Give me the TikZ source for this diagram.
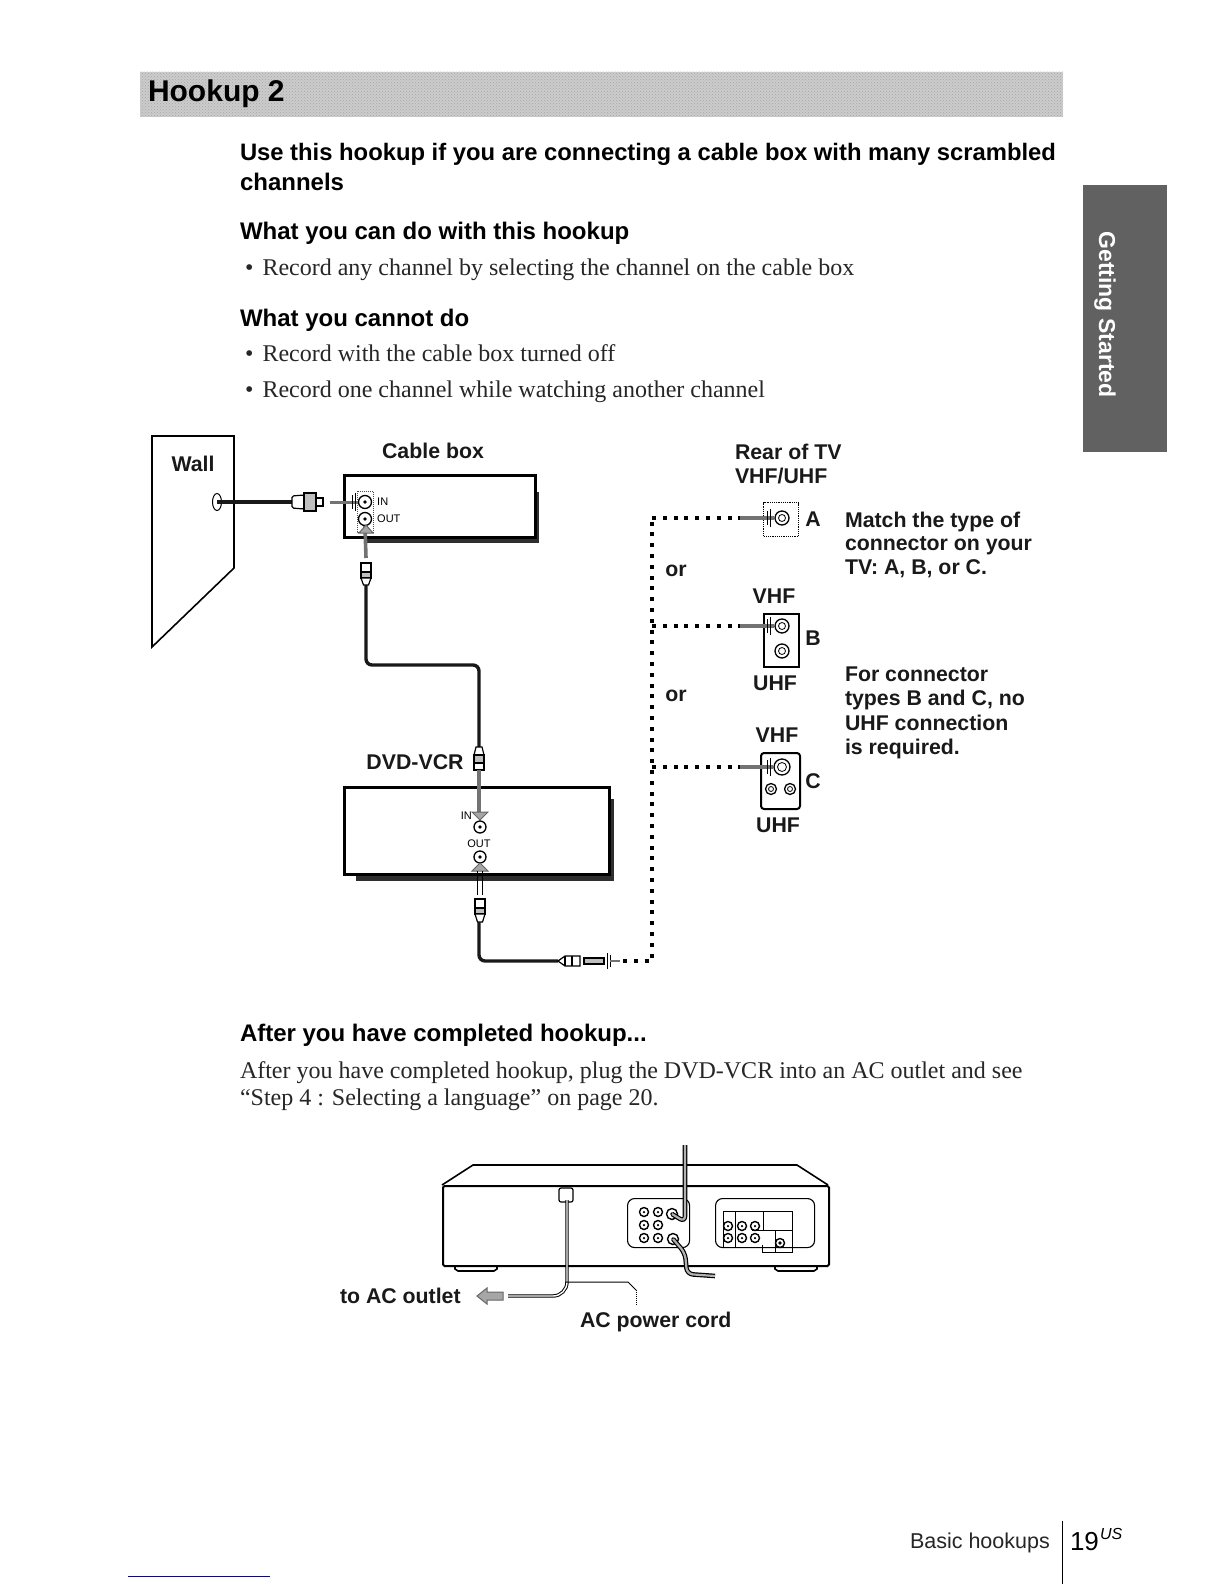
\documentclass[tikz,border=0pt]{standalone}
\usepackage{fontspec}
\setmainfont{Liberation Serif}
\newfontfamily\hb{Liberation Sans}[BoldFont={Liberation Sans Bold}]
\usetikzlibrary{patterns,shapes.geometric}
\tikzset{
 x=1pt,y=-1pt,
 txt/.style={anchor=base west,inner sep=0pt,outer sep=0pt},
 head/.style={txt,font=\hb\bfseries\fontsize{24}{26}\selectfont},
 headbig/.style={txt,font=\hb\bfseries\fontsize{23.8}{26}\selectfont},
 body/.style={txt,font=\fontsize{24}{27}\selectfont,text=black!85},
 lab/.style={inner sep=0pt,outer sep=0pt,font=\hb\bfseries\fontsize{21.3}{23}\selectfont,text=black!90},
 labw/.style={lab,anchor=base west},
 tiny/.style={inner sep=0pt,font=\hb\fontsize{11}{12}\selectfont},
 thickbox/.style={draw=black,line width=2.8pt,fill=white},
 shadowbox/.style={fill=black!82},
 cable/.style={draw=black!90,line width=3.4pt,rounded corners=6pt},
 hatch/.style={draw=black!55,line width=3.6pt},
 chevron/.style={draw=black!60,line width=1pt,fill=black!35},
 dotline/.style={draw=black,line width=3.6pt,dash pattern=on 4pt off 6.8pt},
 thinbox/.style={draw=black,line width=1.2pt,fill=white},
 jack/.style={circle,draw=black,line width=1.3pt,fill=white,inner sep=0pt,minimum size=#1},
 jack/.default=14pt,
 pin/.style={circle,fill=black,inner sep=0pt,minimum size=3.6pt},
 plugb/.style={draw=black,line width=1.2pt,fill=white},
}
\begin{document}
\begin{tikzpicture}
\useasboundingbox (0,0) rectangle (1224,1584);
\fill[white] (0,0) rectangle (1224,1584);
% header band
\fill[black!20] (140,72) rectangle (1063,117);
\fill[pattern=crosshatch dots,pattern color=black!35] (140,72) rectangle (1063,117);
\node[txt,font=\hb\bfseries\fontsize{30}{31}\selectfont] (title) at (148,102) {Hookup 2};
% side tab
\fill[black!62] (1083,185) rectangle (1167,452);
\node[inner sep=0pt,rotate=-90,text=white,font=\hb\bfseries\fontsize{23}{24}\selectfont] (tab) at (1105,314.5) {Getting Started};
% text
\node[headbig] (h1) at (240,160.5) {Use this hookup if you are connecting a cable box with many scrambled};
\node[head] (h1b) at (240,190) {channels};
\node[head] (h2) at (240,239) {What you can do with this hookup};
\node[body] (b0) at (245,275) {•};
\node[body] (b1) at (262.5,275) {Record any channel by selecting the channel on the cable box};
\node[head] (h3) at (240,326) {What you cannot do};
\node[body] (b2) at (245,361) {•};
\node[body] (b3) at (262.5,361) {Record with the cable box turned off};
\node[body] (b4) at (245,397) {•};
\node[body] (b5) at (262.5,397) {Record one channel while watching another channel};
\node[head] (h4) at (240,1041) {After you have completed hookup...};
\node[body] (p1) at (240,1078) {After you have completed hookup, plug the DVD-VCR into an AC outlet and see};
\node[body] (p2) at (240,1105) {“Step 4 : Selecting a language” on page 20.};
% Wall
\draw[draw=black,line width=1.6pt,fill=white] (152,436) -- (234,436) -- (234,568) -- (152,647) -- cycle;
\node[lab] (wall) at (193,464) {Wall};
\node[draw=black,line width=1pt,fill=white,ellipse,minimum width=9pt,minimum height=17pt,inner sep=0pt] (wallj) at (217,502) {};
% Cable box
\fill[shadowbox] (365,492) -- (539,492) -- (539,543) -- (365,543) -- cycle;
\node[thickbox,anchor=north west,minimum width=191pt,minimum height=62pt,inner sep=0pt] (cbox) at (343,474) {};
\draw[draw=black!70,line width=1pt,densely dotted,fill=white] (357,491) rectangle (373,532);
\node[jack=13pt] (cin) at (365,502) {};
\node[pin] at (cin) {};
\node[jack=13pt] (cout) at (365,519) {};
\node[pin] at (cout) {};
\node[tiny,anchor=west] (cintx) at (377,502) {IN};
\node[tiny,anchor=west] (coutx) at (377,519) {OUT};
\node[lab] (cbl) at (433,451) {Cable box};
% wall to cable box
\coordinate (p1a) at (292,502);
\draw[cable] (wallj.center) -- (p1a);
\draw[plugb,rounded corners=1.5pt] (292,496) -- (304,495) -- (304,509) -- (292,508) -- cycle;
\draw[plugb,fill=black!25] (304,493) rectangle (316,511);
\draw[plugb] (316,498) rectangle (323,506);
\draw[hatch,line width=3pt] (330,502) -- (cin.west);
\draw[black,line width=.9pt] (352,495) -- (352,509) (355,493) -- (355,511);
% Cable box to DVD-VCR
\coordinate (q1) at (366,558);
\draw[hatch] (cout.south) -- (q1);
\draw[chevron] (359,533) -- (366,525) -- (373,533) -- cycle;
\draw[cable] (366,584) -- (366,665) -- (479,665) -- (479,747);
\draw[plugb,fill=white] (361,563) rectangle (371,572);
\draw[plugb,fill=black!25] (361,572) rectangle (371,578);
\draw[plugb] (361,578) -- (371,578) -- (368.5,585) -- (363.5,585) -- cycle;
\node[lab] (dvd) at (415,762) {DVD-VCR};
% DVD-VCR
\fill[shadowbox] (356,799) -- (614,799) -- (614,881) -- (356,881) -- cycle;
\node[thickbox,anchor=north west,minimum width=265pt,minimum height=87pt,inner sep=0pt] (vbox) at (343,786) {};
\draw[plugb] (476,747) -- (482,747) -- (484,755) -- (474,755) -- cycle;
\draw[plugb,fill=black!25] (474,755) rectangle (484,763);
\draw[plugb] (474,763) rectangle (484,770);
\draw[hatch] (479,770) -- (479,812);
\draw[chevron] (472,812) -- (480,820) -- (488,812) -- cycle;
\node[jack=12pt] (vin) at (480,827) {};
\node[pin] at (vin) {};
\node[tiny,anchor=east] (vintx) at (472,816) {IN};
\node[tiny] (vouttx) at (479,844) {OUT};
\node[jack=12pt] (vout) at (480,857) {};
\node[pin] at (vout) {};
\draw[chevron] (472,871) -- (480,863) -- (488,871) -- cycle;
\draw[black,line width=1pt] (477,871) -- (477,895) (482,871) -- (482,895);
\draw[plugb] (475,899) rectangle (485,908);
\draw[plugb,fill=black!25] (475,908) rectangle (485,914);
\draw[plugb] (475,914) -- (485,914) -- (482.5,922) -- (477.5,922) -- cycle;
% DVD-VCR to TV
\coordinate (r1) at (558,961);
\draw[cable] (479,922) -- (479,961) -- (r1);
\draw[plugb] (558,961) -- (565,956) -- (580,956) -- (580,966) -- (565,966) -- cycle;
\draw[plugb] (565,956) -- (565,966) (572,956) -- (572,966);
\draw[plugb,fill=black!25] (584,958) rectangle (604,964);
\draw[black,line width=.9pt] (607,953) -- (607,969) (610,955) -- (610,967);
\draw[hatch,line width=2pt] (610,961) -- (620,961);
\coordinate (d0) at (623,961);
\coordinate (dv) at (652,961);
\coordinate (dA) at (652,518);
\coordinate (dB) at (652,626);
\coordinate (dC) at (652,767);
\draw[dotline] (d0) -- (dv) -- (dA);
% TV connectors
\node[thinbox,densely dotted,anchor=north west,minimum width=35pt,minimum height=34pt,inner sep=0pt] (ba) at (763,502) {};
\node[thinbox,line width=1.5pt,anchor=north west,minimum width=35pt,minimum height=53pt,inner sep=0pt] (bb) at (763,613) {};
\node[thinbox,line width=2pt,anchor=north west,rounded corners=3pt,minimum width=39pt,minimum height=56pt,inner sep=0pt] (bc) at (760,752) {};
\node[jack=14pt] (ja) at (782,518) {}; \node[jack=7pt,line width=.8pt] at (ja) {};
\node[jack=14pt] (jb) at (782,626) {}; \node[jack=7pt,line width=.8pt] at (jb) {};
\node[jack=14pt] (jb2) at (782,651) {}; \node[jack=7pt,line width=.8pt] at (jb2) {};
\node[jack=16pt] (jc) at (782,767) {}; \node[jack=9pt,line width=.8pt] at (jc) {};
\node[jack=11pt] (jc2) at (771,789) {}; \node[jack=5pt,line width=.8pt] at (jc2) {};
\node[jack=11pt] (jc3) at (790,789) {}; \node[jack=5pt,line width=.8pt] at (jc3) {};
\foreach \d/\j/\yy in {dA/ja/518,dB/jb/626,dC/jc/767}{
 \coordinate (m\j) at (740,\yy);
 \coordinate (n\j) at (767,\yy);
 \draw[dotline] (\d) -- (m\j);
 \draw[hatch,line width=4pt] (m\j) -- (\j.west);
 \draw[black,line width=.9pt] ([yshift=7pt]n\j) -- ([yshift=-7pt]n\j);
 \draw[black,line width=.9pt] ([shift={(3pt,9pt)}]n\j) -- ([shift={(3pt,-9pt)}]n\j);
}
\node[labw] (r1t) at (735,459) {Rear of TV};
\node[labw] (r2t) at (735,483) {VHF/UHF};
\node[lab] (la) at (813,519) {A};
\node[lab] (lb) at (813,638) {B};
\node[lab] (lc) at (813,781) {C};
\node[lab] (or1) at (676,571) {or};
\node[lab] (or2) at (676,696) {or};
\node[lab] (v1) at (774,596) {VHF};
\node[lab] (u1) at (775,683) {UHF};
\node[lab] (v2) at (777,735) {VHF};
\node[lab] (u2) at (778,825) {UHF};
\node[labw] (m1) at (845,527) {Match the type of};
\node[labw] (m2) at (845,550) {connector on your};
\node[labw] (m3) at (845,574) {TV: A, B, or C.};
\node[labw] (f1) at (845,681) {For connector};
\node[labw] (f2) at (845,705) {types B and C, no};
\node[labw] (f3) at (845,730) {UHF connection};
\node[labw] (f4) at (845,754) {is required.};
% bottom DVD-VCR
\begin{scope}[line width=1.6pt]
\draw[fill=white] (442,1185) -- (473,1165) -- (797,1165) -- (828,1185);
\draw[fill=white] (455,1265) -- (455,1269) -- (458,1271) -- (494,1271) -- (497,1269) -- (497,1265);
\draw[fill=white] (775,1265) -- (775,1269) -- (778,1271) -- (814,1271) -- (817,1269) -- (817,1265);
\node[draw=black,line width=2pt,fill=white,anchor=north west,minimum width=386pt,minimum height=80pt,inner sep=0pt,rounded corners=1.5pt] (rv) at (442,1185) {};
\node[draw=black,line width=1.1pt,fill=white,anchor=north west,minimum width=62pt,minimum height=49pt,inner sep=0pt,rounded corners=7pt] (pa) at (627,1198) {};
\node[draw=black,line width=1.1pt,fill=white,anchor=north west,minimum width=99pt,minimum height=49pt,inner sep=0pt,rounded corners=7pt] (pb) at (715,1198) {};
\end{scope}
\foreach \x in {644,658}\foreach \y in {1212,1225,1238}{\node[jack=9pt,line width=1.4pt] at (\x,\y) {};\node[pin,minimum size=2.5pt] at (\x,\y) {};}
\foreach \x in {728,742,755}\foreach \y in {1226,1238}{\node[jack=9pt,line width=1.4pt] at (\x,\y) {};\node[pin,minimum size=2.5pt] at (\x,\y) {};}
\draw[line width=1pt] (723,1247) -- (723,1211) -- (792,1211) -- (792,1252) -- (762,1252) -- (762,1245);
\draw[line width=1pt] (723,1247) -- (752,1247) (735,1211) -- (735,1247) (763,1211) -- (763,1230);
\draw[line width=1pt] (752,1230) -- (792,1230) (775,1230) -- (775,1252);
\node[jack=9pt,line width=1.4pt] (cx) at (780,1243) {};
\node[pin] at (cx) {};
\node[jack=11pt,line width=1.4pt] (ua) at (672,1214) {};
\node[pin] at (ua) {};
\node[jack=11pt,line width=1.4pt] (ub) at (673,1239) {};
\node[pin] at (ub) {};
\coordinate (ctop) at (685,1145);
\coordinate (cbot) at (715,1276);
\draw[line width=4.6pt,black,rounded corners=6pt] (ctop) -- (685,1222) -- (ua.center);
\draw[line width=2.2pt,black!30,rounded corners=6pt] (ctop) -- (685,1222) -- (ua.center);
\draw[line width=4.6pt,black,rounded corners=6pt] (ub.center) -- (685,1253) -- (687,1274) -- (cbot);
\draw[line width=2.2pt,black!30,rounded corners=6pt] (ub.center) -- (685,1253) -- (687,1274) -- (cbot);
% power cord
\node[draw=black,line width=1.2pt,fill=white,minimum width=14pt,minimum height=14pt,rounded corners=2pt,inner sep=0pt] (plug) at (566,1195) {};
\coordinate (c1) at (567,1200);
\coordinate (c2) at (508,1296);
\draw[line width=3.4pt,black,rounded corners=14pt] (c1) -- (567,1296) -- (c2);
\draw[line width=1.4pt,white,rounded corners=14pt] (c1) -- (567,1296) -- (c2);
\coordinate (a1) at (477,1296);
\draw[chevron] (503,1292) -- (487,1292) -- (487,1288) -- (a1) -- (487,1304) -- (487,1300) -- (503,1300) -- cycle;
\draw[line width=1pt] (565,1282) -- (628,1282) -- (636,1290);
\draw[line width=1pt,densely dotted] (636,1290) -- (636,1305);
\node[lab,anchor=base west] (toac) at (340,1303) {to AC outlet};
\node[lab,anchor=base west] (acp) at (580,1327) {AC power cord};
% footer
\node[txt,font=\hb\fontsize{21.5}{23}\selectfont,text=black!85] (fa) at (910,1548) {Basic hookups};
\node[txt,font=\hb\fontsize{26}{28}\selectfont] (fn) at (1070,1550) {19};
\node[txt,font=\hb\itshape\fontsize{16}{18}\selectfont] (fu) at (1100,1539) {US};
\draw[line width=1pt] (1062,1521) -- (1062,1584);
\draw[blue!80!black,line width=1pt] (128,1576) -- (270,1576);
\end{tikzpicture}
\end{document}
